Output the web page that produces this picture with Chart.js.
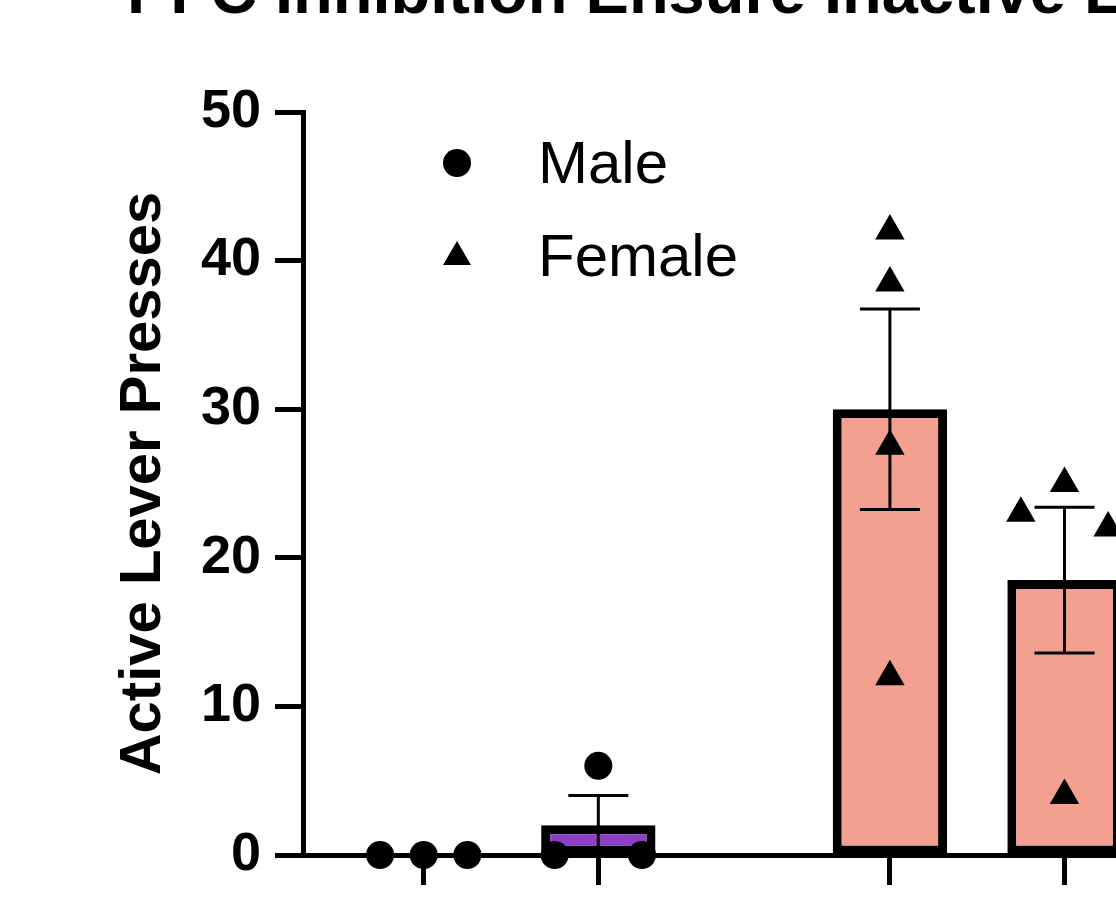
<!DOCTYPE html>
<html>
<head>
<meta charset="utf-8">
<script src="https://cdn.jsdelivr.net/npm/chart.js@4/dist/chart.umd.min.js"></script>
<style>
  html, body { margin: 0; padding: 0; overflow: hidden; background: #fff; }
  #wrap { position: absolute; left: 0; top: -60px; width: 1200px; height: 962px; }
</style>
</head>
<body>
<div id="wrap"><canvas id="chart"></canvas></div>
<script>
// group positions on the x axis (two pairs with a gap between them)
const groupX = [1, 2, 3.67, 4.67];
const barMeans = [0, 2, 30, 18.5];
const barSem = [0, 2, 6.75, 4.9];
const barColors = ["#8E3FC4", "#8E3FC4", "#F4A090", "#F4A090"];

// single animals: x = group position + jitter, y = presses
const maleX = [0.75, 1, 1.25, 1.75, 2, 2.25];
const maleY = [0, 0, 0, 0, 6, 0];
const femaleX = [3.67, 3.67, 3.67, 3.67, 4.42, 4.67, 4.92, 4.67];
const femaleY = [42, 38.5, 27.5, 12, 23, 25, 22, 4];

const yTicks = [0, 10, 20, 30, 40, 50];
const FONT = "'Liberation Sans', Arial, sans-serif";

//Draws mean +/- SEM whiskers over the bars
const errorBars = {
    id: "errorBars",
    afterDatasetsDraw(chart) {
        const { ctx, scales: { x, y } } = chart;
        ctx.save();
        ctx.strokeStyle = "#000";
        ctx.lineWidth = 3;
        groupX.forEach((gx, i) => {
            if (!barSem[i]) return;
            const px = x.getPixelForValue(gx);
            const top = y.getPixelForValue(barMeans[i] + barSem[i]);
            const bot = y.getPixelForValue(barMeans[i] - barSem[i]);
            ctx.beginPath();
            ctx.moveTo(px, top); ctx.lineTo(px, bot);
            ctx.moveTo(px - 30, top); ctx.lineTo(px + 30, top);
            ctx.moveTo(px - 30, bot); ctx.lineTo(px + 30, bot);
            ctx.stroke();
        });
        ctx.restore();
    }
};

//Title, mostly cut off by the top of the picture
const titleText = {
    id: "titleText",
    afterDraw(chart) {
        const ctx = chart.ctx;
        ctx.save();
        ctx.fillStyle = "#000";
        ctx.font = "bold 65px " + FONT;
        ctx.textAlign = "left";
        ctx.textBaseline = "alphabetic";
        ctx.fillText("PFC Inhibition Ensure Inactive Lever Presses", 127, 73);
        ctx.restore();
    }
};

//Legend inside the plot, top left
const legendMarks = {
    id: "legendMarks",
    afterDraw(chart) {
        const ctx = chart.ctx;
        ctx.save();
        ctx.fillStyle = "#000";
        ctx.beginPath();
        ctx.arc(457, 223, 14, 0, Math.PI * 2);
        ctx.fill();
        ctx.beginPath();
        ctx.moveTo(457, 301);
        ctx.lineTo(471, 325);
        ctx.lineTo(443, 325);
        ctx.closePath();
        ctx.fill();
        ctx.font = "60px " + FONT;
        ctx.textAlign = "left";
        ctx.textBaseline = "alphabetic";
        ctx.fillText("Male", 538, 243);
        ctx.fillText("Female", 538, 336);
        ctx.restore();
    }
};

new Chart(document.getElementById("chart"), {
    type: "bar",
    data: {
        datasets: [
            {
                type: "bar",
                data: groupX.map((v, i) => ({ x: v, y: barMeans[i] })),
                backgroundColor: barColors,
                borderColor: "#000",
                borderWidth: 9,
                borderSkipped: false,
                barPercentage: 0.655,
                categoryPercentage: 1,
                order: 3,
            },
            {
                type: "scatter",
                label: "Male",
                data: maleX.map((v, i) => ({ x: v, y: maleY[i] })),
                pointStyle: "circle",
                pointRadius: 14,
                backgroundColor: "#000",
                borderWidth: 0,
                clip: false,
                order: 1,
            },
            {
                type: "scatter",
                label: "Female",
                data: femaleX.map((v, i) => ({ x: v, y: femaleY[i] })),
                pointStyle: "triangle",
                pointRadius: 17,
                backgroundColor: "#000",
                borderWidth: 0,
                clip: false,
                order: 2,
            },
        ],
    },
    options: {
        responsive: true,
        maintainAspectRatio: false,
        animation: false,
        layout: { padding: { left: 105, top: 172, right: 0, bottom: 0 } },
        plugins: {
            legend: { display: false },
            tooltip: { enabled: false },
        },
        scales: {
            x: {
                type: "linear",
                min: 0.3086,
                max: 5.3486,
                offset: false,
                afterBuildTicks: (s) => { s.ticks = groupX.map((v) => ({ value: v })); },
                afterFit: (s) => { s.height = 47; },
                grid: { offset: false, drawOnChartArea: false, tickLength: 30, tickWidth: 5, tickColor: "#000" },
                border: { color: "#000", width: 5 },
                ticks: { display: false },
            },
            y: {
                min: 0,
                max: 50,
                afterBuildTicks: (s) => { s.ticks = yTicks.map((v) => ({ value: v })); },
                afterFit: (s) => { s.width = 198; },
                grid: { drawOnChartArea: false, tickLength: 28, tickWidth: 5, tickColor: "#000" },
                border: { color: "#000", width: 5 },
                ticks: {
                    color: "#000",
                    padding: 14,
                    font: { family: FONT, size: 54, weight: "bold" },
                },
                title: {
                    display: true,
                    text: "Active Lever Presses",
                    color: "#000",
                    padding: { top: 4, bottom: 0 },
                    font: { family: FONT, size: 58, weight: "bold" },
                },
            },
        },
    },
    plugins: [errorBars, titleText, legendMarks],
});
</script>
</body>
</html>
